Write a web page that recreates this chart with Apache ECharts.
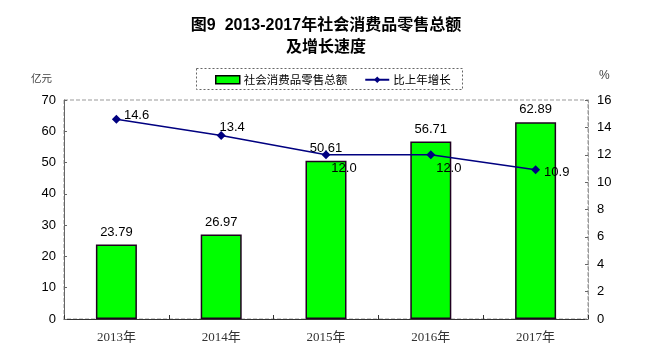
<!DOCTYPE html>
<html>
<head>
<meta charset="utf-8">
<script src="https://cdn.jsdelivr.net/npm/echarts@6/dist/echarts.min.js"></script>
<style>html,body{margin:0;padding:0;background:#fff;}#c{width:652px;height:362px;}</style>
</head>
<body>
<div id="c"></div>
<script>
const categories = ['2013年', '2014年', '2015年', '2016年', '2017年'];
const salesValues = [23.79, 26.97, 50.61, 56.71, 62.89];
const growthValues = [14.6, 13.4, 12.0, 12.0, 10.9];
const seriesNames = ['社会消费品零售总额', '比上年增长'];

const sans = 'Liberation Sans, Arial, Noto Sans CJK SC, sans-serif';
const growthLabelStyle = [
  { position: 'right', offset: [-2, -4] },
  { position: 'top', offset: [11, 8] },
  { position: 'bottom', offset: [18, -2] },
  { position: 'bottom', offset: [18, -2] },
  { position: 'right', offset: [-1, 3] }
];

const chart = echarts.init(document.getElementById('c'), null, { renderer: 'canvas' });
chart.setOption({
  backgroundColor: '#fff',
  animation: false,
  title: {
    text: '图9  2013-2017年社会消费品零售总额\n及增长速度',
    left: 'center',
    top: 10,
    textStyle: { fontFamily: sans, fontSize: 16, fontWeight: 'bold', color: '#000', lineHeight: 22 }
  },
  graphic: [
    { type: 'rect', shape: { x: 196.5, y: 68.5, width: 266, height: 21 },
      style: { fill: '#fff', stroke: '#666', lineDash: [2, 2], lineWidth: 1 }, z: 0 }
  ],
  legend: {
    left: 210, top: 69,
    itemWidth: 24, itemHeight: 8, itemGap: 17,
    data: [
      { name: seriesNames[0], icon: 'rect', itemStyle: { color: '#00ff00', borderColor: '#000', borderWidth: 1.5 } },
      { name: seriesNames[1] }
    ],
    textStyle: { fontFamily: 'Noto Sans CJK SC, sans-serif', fontSize: 11.5, color: '#000', padding: [0, 0, 0, -1] },
    z: 5
  },
  grid: {
    left: 64, right: 64, top: 100, bottom: 43,
    show: true, borderColor: '#999', borderWidth: 1, borderType: 'dashed'
  },
  xAxis: {
    type: 'category',
    data: categories,
    axisLine: { lineStyle: { color: '#333', width: 1 } },
    axisTick: { show: true, inside: true, length: 4, lineStyle: { color: '#333' } },
    axisLabel: { margin: 12, fontFamily: 'Liberation Serif, Noto Sans CJK SC, serif', fontSize: 13, color: '#333' }
  },
  yAxis: [
    {
      type: 'value', min: 0, max: 70, interval: 10,
      name: '亿元', nameLocation: 'end', nameGap: 17,
      nameTextStyle: { fontFamily: 'Noto Sans CJK SC, sans-serif', fontSize: 10.5, color: '#444', align: 'right', padding: [0, 12, 0, 0] },
      axisLine: { show: true, lineStyle: { color: '#666' } },
      axisTick: { show: true, inside: true, length: 3, lineStyle: { color: '#666' } },
      axisLabel: { fontFamily: sans, fontSize: 13, color: '#000', margin: 8 },
      splitLine: { show: false }
    },
    {
      type: 'value', min: 0, max: 16, interval: 2,
      name: '%', nameLocation: 'end', nameGap: 18,
      nameTextStyle: { fontFamily: sans, fontSize: 12, color: '#444', align: 'left', padding: [0, 0, 0, 11] },
      axisLine: { show: true, lineStyle: { color: '#999', type: 'dashed' } },
      axisTick: { show: true, inside: true, length: 3, lineStyle: { color: '#666' } },
      axisLabel: { fontFamily: sans, fontSize: 13, color: '#000', margin: 9 },
      splitLine: { show: false }
    }
  ],
  series: [
    {
      name: seriesNames[0], type: 'bar', yAxisIndex: 0,
      data: salesValues, barWidth: 41,
      itemStyle: { color: '#00ff00', borderColor: '#200020', borderWidth: 1.5 },
      label: { show: true, position: 'top', distance: 6, fontFamily: sans, fontSize: 13, color: '#000',
        formatter: p => p.value.toFixed(2) }
    },
    {
      name: seriesNames[1], type: 'line', yAxisIndex: 1,
      data: growthValues.map((v, i) => ({ value: v, label: growthLabelStyle[i] })),
      symbol: 'diamond', symbolSize: 9,
      lineStyle: { color: '#000080', width: 1.5 },
      itemStyle: { color: '#000080' },
      label: { show: true, fontFamily: sans, fontSize: 13, color: '#000', formatter: p => p.value.toFixed(1) },
      z: 3
    }
  ]
});
</script>
</body>
</html>
